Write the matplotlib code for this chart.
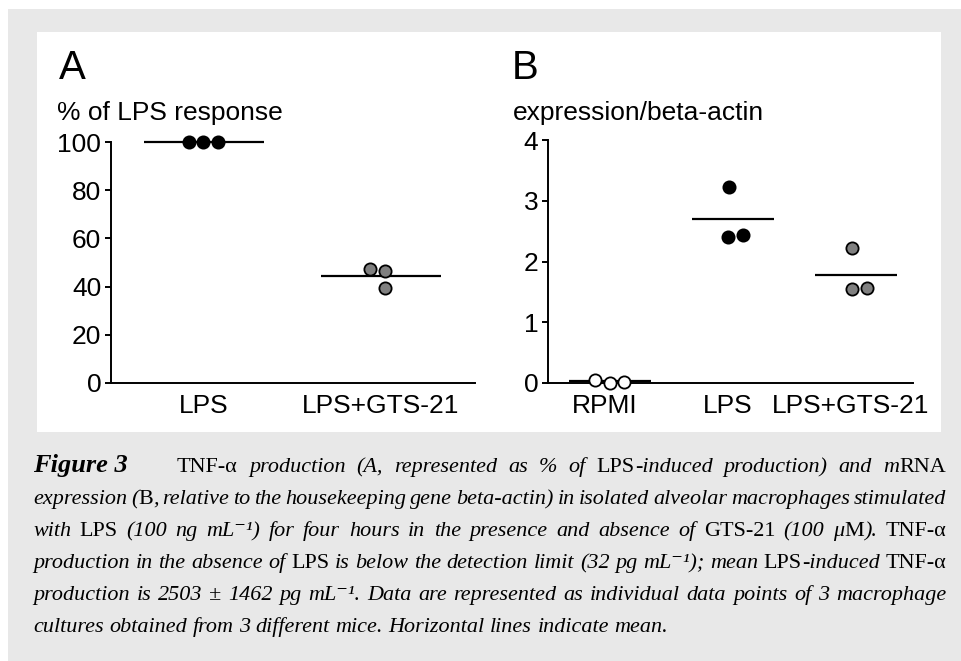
import numpy as np
import matplotlib.pyplot as plt
from matplotlib.patches import Rectangle

# datos
cats_a = ['LPS', 'LPS+GTS-21']
vals_a = [[100, 100, 100], [47.2, 46.5, 39.3]]
jit_a = [[-15, -1, 14], [-11, 4, 4]]      # desplazamiento horizontal en px

cats_b = ['RPMI', 'LPS', 'LPS+GTS-21']
vals_b = [[0.05, 0.005, 0.02], [3.23, 2.41, 2.44], [2.22, 1.54, 1.56]]
jit_b = [[-15, 0, 14], [-4, -5, 10], [-4, -4, 11]]

face_a = ['black', '#808080']
face_b = ['white', 'black', '#808080']

# {...} = texto en redonda, el resto en cursiva
caption = [
    "{TNF-α} production (A, represented as % of {LPS}-induced production) and m{RNA}",
    "expression ({B}, relative to the housekeeping gene beta-actin) in isolated alveolar macrophages stimulated",
    "with {LPS} (100 ng mL⁻¹) for four hours in the presence and absence of {GTS-21} (100 μ{M}). {TNF-α}",
    "production in the absence of {LPS} is below the detection limit (32 pg mL⁻¹); mean {LPS}-induced {TNF-α}",
    "production is 2503 ± 1462 pg mL⁻¹. Data are represented as individual data points of 3 macrophage",
    "cultures obtained from 3 different mice. Horizontal lines indicate mean.",
]

W, H = 961, 661
fig = plt.figure(figsize=(W / 100, H / 100), dpi=100)
plt.rcParams['font.family'] = ['Liberation Sans', 'DejaVu Sans']

# fondos
fig.patches.append(Rectangle((8 / W, 0), 1, 1 - 9 / H, transform=fig.transFigure,
                             facecolor='#e8e8e8', edgecolor='none', zorder=-2))
fig.patches.append(Rectangle((37 / W, 1 - 432 / H), (941 - 37) / W, (432 - 32) / H,
                             transform=fig.transFigure, facecolor='white',
                             edgecolor='none', zorder=-1))


def px(x, y):
    return x / W, 1 - y / H


def panel(rect, cats, vals, jit, faces, unit, xlim, ylim, yticks, halfw, lab_shift=0):
    l, r, t, b = rect
    ax = fig.add_axes([l / W, 1 - b / H, (r - l) / W, (b - t) / H])
    ax.patch.set_alpha(0)
    for i, (v, j, fc) in enumerate(zip(vals, jit, faces)):
        xs = i + np.array(j) / unit
        ax.plot(xs, v, 'o', ms=8.8, mfc=fc, mec='black', mew=1.3,
                clip_on=False, zorder=3, ls='none')
        ax.hlines(np.mean(v), i - halfw, i + halfw, color='black', lw=1.6,
                  zorder=2, clip_on=False)
    ax.set_xlim(*xlim)
    ax.set_ylim(*ylim)
    ax.set_yticks(yticks)
    ax.set_xticks(np.arange(len(cats)) + lab_shift / unit)
    ax.set_xticklabels(cats)
    for s in ['top', 'right']:
        ax.spines[s].set_visible(False)
    for s in ['left', 'bottom']:
        ax.spines[s].set_linewidth(1.4)
    ax.tick_params(axis='y', length=4.5, width=1.4, pad=2.5, labelsize=19)
    ax.tick_params(axis='x', length=0, pad=8, labelsize=19)
    return ax


panel((111, 475, 142, 383), cats_a, vals_a, jit_a, face_a, 177,
      ((111 - 204) / 177, (475 - 204) / 177), (0, 100), range(0, 101, 20), 0.34)
panel((548, 913, 140, 383), cats_b, vals_b, jit_b, face_b, 123,
      ((548 - 610) / 123, (913 - 610) / 123), (0, 4), range(0, 5), 0.33, lab_shift=-5)

fig.text(*px(59, 79), 'A', fontsize=29)
fig.text(*px(57, 120), '% of LPS response', fontsize=19)
fig.text(*px(512, 79), 'B', fontsize=29)
fig.text(*px(513, 120), 'expression/beta-actin', fontsize=19)

# pie de figura, justificado palabra por palabra
serif = ['Liberation Serif', 'DejaVu Serif']
r = fig.canvas.get_renderer()
x_left, x_right = 33, 946
y0, dy = 472, 32

fig.text(*px(x_left, y0), 'Figure 3', family=serif, style='italic',
         weight='bold', fontsize=19)


def segments(word):
    out = []
    up = False
    buf = ''
    for ch in word:
        if ch in '{}':
            if buf:
                out.append((buf, up))
            buf = ''
            up = ch == '{'
        else:
            buf += ch
    if buf:
        out.append((buf, up))
    return out


def make_word(word, size):
    ts = []
    for s, up in segments(word):
        ts.append(fig.text(0, 0, s, family=serif, fontsize=size,
                           style='normal' if up else 'italic'))
    ws = [t.get_window_extent(r).width for t in ts]
    return ts, ws


def measure(size):
    # cuánto sobra/falta para que las líneas quepan con un hueco mínimo
    worst = 0
    for k, line in enumerate(caption[:-1]):
        start = 177 if k == 0 else x_left
        tot = 0
        n = 0
        for w in line.split(' '):
            ts, ws = make_word(w, size)
            tot += sum(ws)
            n += 1
            for t in ts:
                t.remove()
        need = tot + (n - 1) * 0.18 * size * 100 / 72
        worst = max(worst, need / (x_right - start))
    return worst


cap_size = 14.0
cap_size = cap_size / measure(cap_size)
space = 0.25 * cap_size * 100 / 72

for k, line in enumerate(caption):
    y = y0 + k * dy
    start = 177 if k == 0 else x_left
    words = [make_word(w, cap_size) for w in line.split(' ')]
    tot = sum(sum(ws) for _, ws in words)
    if k < len(caption) - 1:
        gap = (x_right - start - tot) / (len(words) - 1)
    else:
        gap = space
    x = start
    for ts, ws in words:
        for t, w in zip(ts, ws):
            t.set_position(px(x, y))
            x += w
        x += gap

fig.savefig('out.png', dpi=100)
